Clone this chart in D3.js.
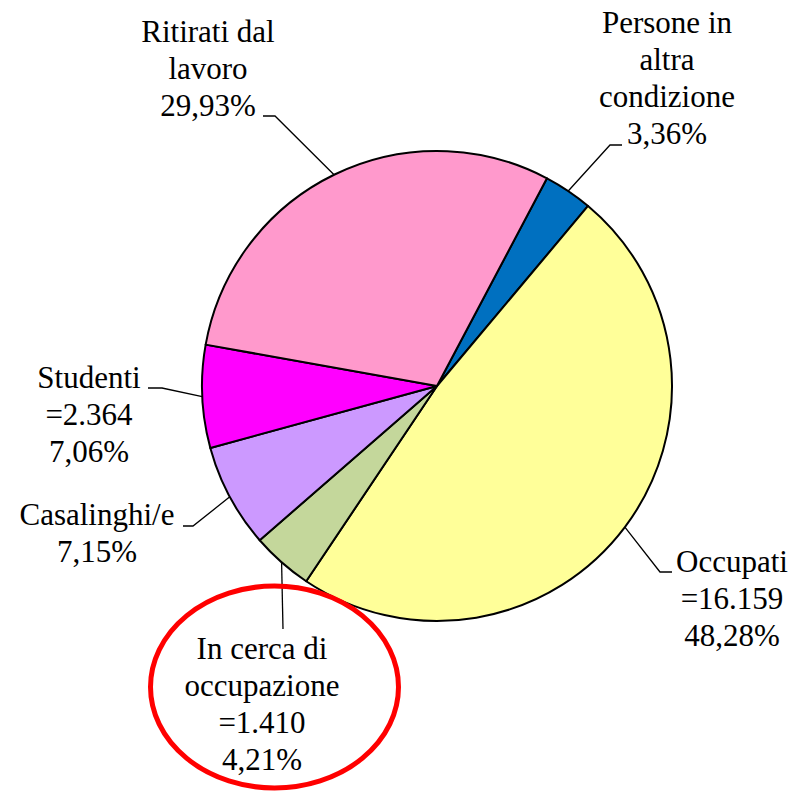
<!DOCTYPE html>
<html>
<head>
<meta charset="utf-8">
<script src="https://cdn.jsdelivr.net/npm/d3@7"></script>
<style>
  body { margin: 0; background: #fff; }
  svg { display: block; }
</style>
</head>
<body>
<svg width="794" height="791"></svg>
<script>
// data, clockwise from the blue slice
var categories = ["Persone in altra condizione", "Occupati", "In cerca di occupazione", "Casalinghi/e", "Studenti", "Ritirati dal lavoro"];
var labelLines = [["Persone in", "altra", "condizione"], ["Occupati"], ["In cerca di", "occupazione"], ["Casalinghi/e"], ["Studenti"], ["Ritirati dal", "lavoro"]];
var percents = [3.36, 48.28, 4.21, 7.15, 7.06, 29.93];
var counts = [null, 16159, 1410, null, 2364, null];   // thousands, only where shown
var colors = ["#0070C0", "#FFFF99", "#C4D79B", "#CC99FF", "#FF00FF", "#FF99CC"];

var svg = d3.select("svg");
var cx = 437, cy = 386, radius = 235;
var startDeg = 27.9;
var fontFamily = "'Liberation Serif', 'Times New Roman', Times, serif";

var it = d3.formatLocale({decimal: ",", thousands: ".", grouping: [3], currency: ["€", ""]});
var fmtCount = it.format(",d");
var fmtPct = it.format(".2f");

// where each label goes: elbow of the leader, end of the leader, text centre, first baseline
var layout = [
  {elbow: [610, 145], end: [622, 145], tx: 667, ty: 33},
  {elbow: [660, 572], end: [672, 572], tx: 732, ty: 572},
  {elbow: [283, 629], end: [283, 629], tx: 262, ty: 659},
  {elbow: [193, 526], end: [183, 526], tx: 97, ty: 525},
  {elbow: [162, 388], end: [148, 388], tx: 89, ty: 388},
  {elbow: [275, 116], end: [263, 116], tx: 208, ty: 42}
];
var lineStep = 37;

var pie = d3.pie().sort(null).value(function(d) { return d; })
  .startAngle(startDeg * Math.PI / 180)
  .endAngle(startDeg * Math.PI / 180 + 2 * Math.PI);
var arcs = pie(percents);
var arc = d3.arc().innerRadius(0).outerRadius(radius);

var g = svg.append("g").attr("transform", "translate(" + cx + "," + cy + ")");
g.selectAll("path")
  .data(arcs)
  .enter().append("path")
  .attr("d", arc)
  .attr("fill", function(d, i) { return colors[i]; })
  .attr("stroke", "#000")
  .attr("stroke-width", 2)
  .attr("stroke-linejoin", "round");

// leader lines
arcs.forEach(function(d, i) {
  var mid = (d.startAngle + d.endAngle) / 2;
  var px = cx + radius * Math.sin(mid);
  var py = cy - radius * Math.cos(mid);
  var L = layout[i];
  svg.append("polyline")
    .attr("points", [[px, py], L.elbow, L.end].map(function(p) { return p.join(","); }).join(" "))
    .attr("fill", "none")
    .attr("stroke", "#000")
    .attr("stroke-width", 1.3);
});

// label texts
arcs.forEach(function(d, i) {
  var lines = labelLines[i].slice();
  if (counts[i] != null) lines.push("=" + fmtCount(counts[i]));
  lines.push(fmtPct(percents[i]) + "%");
  var L = layout[i];
  var t = svg.append("text")
    .attr("text-anchor", "middle")
    .attr("font-family", fontFamily)
    .attr("font-size", 31)
    .attr("fill", "#000");
  lines.forEach(function(s, k) {
    t.append("tspan").attr("x", L.tx).attr("y", L.ty + k * lineStep).text(s);
  });
});

// red highlight round "In cerca di occupazione"
svg.append("ellipse")
  .attr("cx", 274.5)
  .attr("cy", 687)
  .attr("rx", 124)
  .attr("ry", 101)
  .attr("fill", "none")
  .attr("stroke", "#FF0000")
  .attr("stroke-width", 5);
</script>
</body>
</html>
